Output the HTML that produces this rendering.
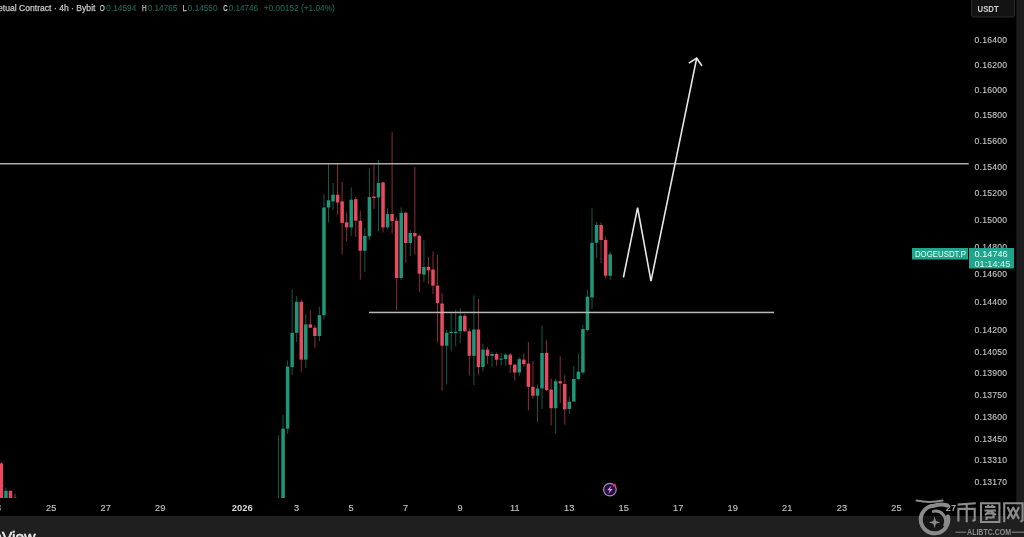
<!DOCTYPE html>
<html><head><meta charset="utf-8">
<style>
html,body{margin:0;padding:0;background:#000;width:1024px;height:537px;overflow:hidden;}
svg{display:block;will-change:transform;filter:blur(0.3px);}
text{font-family:"Liberation Sans",sans-serif;}
.ax{font-size:8.6px;letter-spacing:0.24px;fill:#c4c4c4;stroke:#c4c4c4;stroke-width:0.12px;}
.tx{font-size:9.2px;letter-spacing:0.1px;fill:#c4c4c4;stroke:#c4c4c4;stroke-width:0.12px;text-anchor:middle;}
.yr{font-weight:bold;font-size:9.3px;fill:#d8d8d8;stroke-width:0;}
.hd{font-size:8.6px;fill:#c4c4c4;stroke:#c4c4c4;stroke-width:0.25px;}
.hv{font-size:8.6px;fill:#1b6c58;stroke:#1b6c58;stroke-width:0.1px;}
</style></head><body>
<svg width="1024" height="537" viewBox="0 0 1024 537">
<rect x="0" y="0" width="1024" height="537" fill="#000"/>
<defs><clipPath id="pane"><rect x="0" y="0" width="1016" height="498"/></clipPath></defs>
<g clip-path="url(#pane)">
<rect x="0.90" y="462.0" width="1" height="43.0" fill="#e84a5f" fill-opacity="0.6"/>
<rect x="-0.35" y="463.4" width="3.5" height="41.6" fill="#e84a5f"/>
<rect x="5.45" y="487.4" width="1" height="17.6" fill="#1f9679" fill-opacity="0.6"/>
<rect x="4.20" y="490.8" width="3.5" height="14.2" fill="#1f9679"/>
<rect x="9.99" y="490.8" width="1" height="14.2" fill="#e84a5f" fill-opacity="0.6"/>
<rect x="8.74" y="490.8" width="3.5" height="14.2" fill="#e84a5f"/>
<rect x="14.53" y="493.5" width="1" height="11.5" fill="#e84a5f" fill-opacity="0.6"/>
<rect x="13.28" y="497.6" width="3.5" height="7.4" fill="#e84a5f"/>
<rect x="278.03" y="435.5" width="1" height="84.5" fill="#1f9679" fill-opacity="0.6"/>
<rect x="276.78" y="505.0" width="3.5" height="15.0" fill="#1f9679"/>
<rect x="282.57" y="414.5" width="1" height="105.5" fill="#1f9679" fill-opacity="0.6"/>
<rect x="281.32" y="428.7" width="3.5" height="91.3" fill="#1f9679"/>
<rect x="287.11" y="360.4" width="1" height="73.3" fill="#1f9679" fill-opacity="0.6"/>
<rect x="285.86" y="366.7" width="3.5" height="62.0" fill="#1f9679"/>
<rect x="291.66" y="289.2" width="1" height="85.8" fill="#1f9679" fill-opacity="0.6"/>
<rect x="290.41" y="332.8" width="3.5" height="34.2" fill="#1f9679"/>
<rect x="296.20" y="296.0" width="1" height="46.0" fill="#1f9679" fill-opacity="0.6"/>
<rect x="294.95" y="301.8" width="3.5" height="31.0" fill="#1f9679"/>
<rect x="300.74" y="299.2" width="1" height="72.8" fill="#e84a5f" fill-opacity="0.6"/>
<rect x="299.49" y="301.8" width="3.5" height="57.8" fill="#e84a5f"/>
<rect x="305.29" y="314.3" width="1" height="53.7" fill="#1f9679" fill-opacity="0.6"/>
<rect x="304.04" y="324.4" width="3.5" height="35.2" fill="#1f9679"/>
<rect x="309.83" y="310.0" width="1" height="18.0" fill="#e84a5f" fill-opacity="0.6"/>
<rect x="308.58" y="324.4" width="3.5" height="3.3" fill="#e84a5f"/>
<rect x="314.37" y="325.0" width="1" height="22.9" fill="#e84a5f" fill-opacity="0.6"/>
<rect x="313.12" y="327.7" width="3.5" height="8.3" fill="#e84a5f"/>
<rect x="318.91" y="306.8" width="1" height="34.4" fill="#1f9679" fill-opacity="0.6"/>
<rect x="317.66" y="315.2" width="3.5" height="20.8" fill="#1f9679"/>
<rect x="323.46" y="194.1" width="1" height="125.3" fill="#1f9679" fill-opacity="0.6"/>
<rect x="322.21" y="207.5" width="3.5" height="107.7" fill="#1f9679"/>
<rect x="328.00" y="163.4" width="1" height="59.2" fill="#1f9679" fill-opacity="0.6"/>
<rect x="326.75" y="200.3" width="3.5" height="7.2" fill="#1f9679"/>
<rect x="332.54" y="183.0" width="1" height="27.0" fill="#1f9679" fill-opacity="0.6"/>
<rect x="331.29" y="194.7" width="3.5" height="6.7" fill="#1f9679"/>
<rect x="337.09" y="163.4" width="1" height="51.6" fill="#e84a5f" fill-opacity="0.6"/>
<rect x="335.84" y="194.7" width="3.5" height="7.8" fill="#e84a5f"/>
<rect x="341.63" y="181.8" width="1" height="72.9" fill="#e84a5f" fill-opacity="0.6"/>
<rect x="340.38" y="201.4" width="3.5" height="21.5" fill="#e84a5f"/>
<rect x="346.17" y="212.3" width="1" height="29.0" fill="#e84a5f" fill-opacity="0.6"/>
<rect x="344.92" y="222.3" width="3.5" height="5.1" fill="#e84a5f"/>
<rect x="350.72" y="187.4" width="1" height="48.4" fill="#1f9679" fill-opacity="0.6"/>
<rect x="349.47" y="199.7" width="3.5" height="27.7" fill="#1f9679"/>
<rect x="355.26" y="197.0" width="1" height="39.9" fill="#e84a5f" fill-opacity="0.6"/>
<rect x="354.01" y="199.2" width="3.5" height="21.5" fill="#e84a5f"/>
<rect x="359.80" y="210.6" width="1" height="69.0" fill="#e84a5f" fill-opacity="0.6"/>
<rect x="358.55" y="220.7" width="3.5" height="30.1" fill="#e84a5f"/>
<rect x="364.34" y="228.0" width="1" height="44.0" fill="#1f9679" fill-opacity="0.6"/>
<rect x="363.09" y="235.8" width="3.5" height="15.0" fill="#1f9679"/>
<rect x="368.89" y="168.4" width="1" height="71.8" fill="#1f9679" fill-opacity="0.6"/>
<rect x="367.64" y="197.0" width="3.5" height="39.3" fill="#1f9679"/>
<rect x="373.43" y="165.0" width="1" height="44.0" fill="#e84a5f" fill-opacity="0.6"/>
<rect x="372.18" y="196.5" width="3.5" height="1.5" fill="#e84a5f"/>
<rect x="377.97" y="160.0" width="1" height="71.3" fill="#1f9679" fill-opacity="0.6"/>
<rect x="376.72" y="183.0" width="3.5" height="14.5" fill="#1f9679"/>
<rect x="382.52" y="182.0" width="1" height="50.4" fill="#e84a5f" fill-opacity="0.6"/>
<rect x="381.27" y="182.4" width="3.5" height="45.0" fill="#e84a5f"/>
<rect x="387.06" y="208.4" width="1" height="20.6" fill="#1f9679" fill-opacity="0.6"/>
<rect x="385.81" y="214.0" width="3.5" height="13.4" fill="#1f9679"/>
<rect x="391.60" y="131.7" width="1" height="101.8" fill="#e84a5f" fill-opacity="0.6"/>
<rect x="390.35" y="214.0" width="3.5" height="7.2" fill="#e84a5f"/>
<rect x="396.15" y="216.8" width="1" height="93.3" fill="#e84a5f" fill-opacity="0.6"/>
<rect x="394.90" y="220.7" width="3.5" height="57.3" fill="#e84a5f"/>
<rect x="400.69" y="207.3" width="1" height="72.7" fill="#1f9679" fill-opacity="0.6"/>
<rect x="399.44" y="212.8" width="3.5" height="65.2" fill="#1f9679"/>
<rect x="405.23" y="212.0" width="1" height="50.8" fill="#e84a5f" fill-opacity="0.6"/>
<rect x="403.98" y="212.8" width="3.5" height="30.2" fill="#e84a5f"/>
<rect x="409.77" y="230.0" width="1" height="26.0" fill="#1f9679" fill-opacity="0.6"/>
<rect x="408.52" y="233.0" width="3.5" height="10.0" fill="#1f9679"/>
<rect x="414.32" y="166.8" width="1" height="87.9" fill="#e84a5f" fill-opacity="0.6"/>
<rect x="413.07" y="233.0" width="3.5" height="3.3" fill="#e84a5f"/>
<rect x="418.86" y="235.0" width="1" height="57.0" fill="#e84a5f" fill-opacity="0.6"/>
<rect x="417.61" y="235.8" width="3.5" height="37.9" fill="#e84a5f"/>
<rect x="423.40" y="240.2" width="1" height="41.8" fill="#1f9679" fill-opacity="0.6"/>
<rect x="422.15" y="267.0" width="3.5" height="7.6" fill="#1f9679"/>
<rect x="427.95" y="257.0" width="1" height="26.8" fill="#e84a5f" fill-opacity="0.6"/>
<rect x="426.70" y="267.0" width="3.5" height="3.4" fill="#e84a5f"/>
<rect x="432.49" y="251.4" width="1" height="42.6" fill="#e84a5f" fill-opacity="0.6"/>
<rect x="431.24" y="269.5" width="3.5" height="16.1" fill="#e84a5f"/>
<rect x="437.03" y="254.7" width="1" height="87.6" fill="#e84a5f" fill-opacity="0.6"/>
<rect x="435.78" y="285.6" width="3.5" height="17.4" fill="#e84a5f"/>
<rect x="441.58" y="293.0" width="1" height="97.7" fill="#e84a5f" fill-opacity="0.6"/>
<rect x="440.33" y="303.5" width="3.5" height="42.2" fill="#e84a5f"/>
<rect x="446.12" y="330.0" width="1" height="54.5" fill="#1f9679" fill-opacity="0.6"/>
<rect x="444.87" y="332.8" width="3.5" height="12.9" fill="#1f9679"/>
<rect x="450.66" y="312.5" width="1" height="38.8" fill="#1f9679" fill-opacity="0.6"/>
<rect x="449.41" y="331.8" width="3.5" height="1.2" fill="#1f9679"/>
<rect x="455.20" y="309.7" width="1" height="36.6" fill="#1f9679" fill-opacity="0.6"/>
<rect x="453.95" y="331.8" width="3.5" height="1.2" fill="#1f9679"/>
<rect x="459.75" y="308.0" width="1" height="35.0" fill="#1f9679" fill-opacity="0.6"/>
<rect x="458.50" y="315.8" width="3.5" height="15.4" fill="#1f9679"/>
<rect x="464.29" y="314.0" width="1" height="18.0" fill="#e84a5f" fill-opacity="0.6"/>
<rect x="463.04" y="315.8" width="3.5" height="15.4" fill="#e84a5f"/>
<rect x="468.83" y="328.4" width="1" height="47.2" fill="#e84a5f" fill-opacity="0.6"/>
<rect x="467.58" y="331.2" width="3.5" height="24.6" fill="#e84a5f"/>
<rect x="473.38" y="295.1" width="1" height="89.9" fill="#1f9679" fill-opacity="0.6"/>
<rect x="472.13" y="329.5" width="3.5" height="26.3" fill="#1f9679"/>
<rect x="477.92" y="299.0" width="1" height="76.0" fill="#e84a5f" fill-opacity="0.6"/>
<rect x="476.67" y="329.5" width="3.5" height="37.5" fill="#e84a5f"/>
<rect x="482.46" y="343.5" width="1" height="27.9" fill="#1f9679" fill-opacity="0.6"/>
<rect x="481.21" y="349.6" width="3.5" height="17.4" fill="#1f9679"/>
<rect x="487.01" y="347.0" width="1" height="17.0" fill="#e84a5f" fill-opacity="0.6"/>
<rect x="485.76" y="349.6" width="3.5" height="6.2" fill="#e84a5f"/>
<rect x="491.55" y="351.8" width="1" height="15.2" fill="#1f9679" fill-opacity="0.6"/>
<rect x="490.30" y="354.0" width="3.5" height="1.8" fill="#1f9679"/>
<rect x="496.09" y="352.4" width="1" height="13.4" fill="#e84a5f" fill-opacity="0.6"/>
<rect x="494.84" y="354.0" width="3.5" height="5.7" fill="#e84a5f"/>
<rect x="500.63" y="353.0" width="1" height="12.8" fill="#1f9679" fill-opacity="0.6"/>
<rect x="499.38" y="358.5" width="3.5" height="1.2" fill="#1f9679"/>
<rect x="505.18" y="353.5" width="1" height="12.3" fill="#1f9679" fill-opacity="0.6"/>
<rect x="503.93" y="354.6" width="3.5" height="4.5" fill="#1f9679"/>
<rect x="509.72" y="353.0" width="1" height="20.0" fill="#e84a5f" fill-opacity="0.6"/>
<rect x="508.47" y="354.6" width="3.5" height="10.1" fill="#e84a5f"/>
<rect x="514.26" y="364.0" width="1" height="16.6" fill="#e84a5f" fill-opacity="0.6"/>
<rect x="513.01" y="364.7" width="3.5" height="7.8" fill="#e84a5f"/>
<rect x="518.81" y="357.4" width="1" height="18.5" fill="#1f9679" fill-opacity="0.6"/>
<rect x="517.56" y="359.1" width="3.5" height="13.4" fill="#1f9679"/>
<rect x="523.35" y="353.5" width="1" height="13.5" fill="#e84a5f" fill-opacity="0.6"/>
<rect x="522.10" y="359.7" width="3.5" height="4.4" fill="#e84a5f"/>
<rect x="527.89" y="342.3" width="1" height="68.1" fill="#e84a5f" fill-opacity="0.6"/>
<rect x="526.64" y="363.6" width="3.5" height="23.2" fill="#e84a5f"/>
<rect x="532.44" y="360.8" width="1" height="37.7" fill="#e84a5f" fill-opacity="0.6"/>
<rect x="531.19" y="386.8" width="3.5" height="8.9" fill="#e84a5f"/>
<rect x="536.98" y="384.5" width="1" height="37.7" fill="#1f9679" fill-opacity="0.6"/>
<rect x="535.73" y="388.4" width="3.5" height="7.3" fill="#1f9679"/>
<rect x="541.52" y="325.6" width="1" height="83.2" fill="#1f9679" fill-opacity="0.6"/>
<rect x="540.27" y="353.0" width="3.5" height="35.4" fill="#1f9679"/>
<rect x="546.07" y="340.1" width="1" height="50.9" fill="#e84a5f" fill-opacity="0.6"/>
<rect x="544.82" y="353.0" width="3.5" height="37.0" fill="#e84a5f"/>
<rect x="550.61" y="378.4" width="1" height="47.1" fill="#e84a5f" fill-opacity="0.6"/>
<rect x="549.36" y="389.6" width="3.5" height="18.6" fill="#e84a5f"/>
<rect x="555.15" y="379.0" width="1" height="54.5" fill="#1f9679" fill-opacity="0.6"/>
<rect x="553.90" y="381.2" width="3.5" height="27.0" fill="#1f9679"/>
<rect x="559.69" y="356.3" width="1" height="46.7" fill="#e84a5f" fill-opacity="0.6"/>
<rect x="558.44" y="381.2" width="3.5" height="2.2" fill="#e84a5f"/>
<rect x="564.24" y="375.0" width="1" height="49.6" fill="#e84a5f" fill-opacity="0.6"/>
<rect x="562.99" y="384.0" width="3.5" height="25.3" fill="#e84a5f"/>
<rect x="568.78" y="396.8" width="1" height="17.2" fill="#1f9679" fill-opacity="0.6"/>
<rect x="567.53" y="401.7" width="3.5" height="7.3" fill="#1f9679"/>
<rect x="573.32" y="365.8" width="1" height="36.2" fill="#1f9679" fill-opacity="0.6"/>
<rect x="572.07" y="379.0" width="3.5" height="22.5" fill="#1f9679"/>
<rect x="577.87" y="353.5" width="1" height="26.5" fill="#1f9679" fill-opacity="0.6"/>
<rect x="576.62" y="371.7" width="3.5" height="7.3" fill="#1f9679"/>
<rect x="582.41" y="325.0" width="1" height="49.7" fill="#1f9679" fill-opacity="0.6"/>
<rect x="581.16" y="329.0" width="3.5" height="43.5" fill="#1f9679"/>
<rect x="586.95" y="289.6" width="1" height="41.7" fill="#1f9679" fill-opacity="0.6"/>
<rect x="585.70" y="296.7" width="3.5" height="33.3" fill="#1f9679"/>
<rect x="591.50" y="208.3" width="1" height="100.7" fill="#1f9679" fill-opacity="0.6"/>
<rect x="590.25" y="242.8" width="3.5" height="54.6" fill="#1f9679"/>
<rect x="596.04" y="222.0" width="1" height="35.8" fill="#1f9679" fill-opacity="0.6"/>
<rect x="594.79" y="225.0" width="3.5" height="17.8" fill="#1f9679"/>
<rect x="600.58" y="222.4" width="1" height="40.6" fill="#e84a5f" fill-opacity="0.6"/>
<rect x="599.33" y="225.0" width="3.5" height="15.0" fill="#e84a5f"/>
<rect x="605.12" y="236.6" width="1" height="41.7" fill="#e84a5f" fill-opacity="0.6"/>
<rect x="603.87" y="240.0" width="3.5" height="35.7" fill="#e84a5f"/>
<rect x="609.67" y="251.6" width="1" height="28.6" fill="#1f9679" fill-opacity="0.6"/>
<rect x="608.42" y="254.3" width="3.5" height="21.5" fill="#1f9679"/>
</g>
<!-- horizontal lines -->
<rect x="0" y="163" width="968.7" height="1.5" fill="#aaaaaa"/>
<rect x="369" y="311.7" width="405" height="1.5" fill="#b8b8b8"/>
<!-- arrow -->
<polyline points="623.4,277.5 637.6,207.7 651,281.2 696.7,58.2" fill="none" stroke="#e6e6e6" stroke-width="1.6" stroke-linejoin="miter"/>
<polyline points="688.9,63.2 696.7,58.2 701.9,65.8" fill="none" stroke="#e6e6e6" stroke-width="1.6"/>
<!-- header -->
<text x="-2" y="10.6" class="hd">etual Contract · 4h · Bybit</text>
<text x="99.8" y="10.6" class="hd" textLength="5" lengthAdjust="spacingAndGlyphs">O</text><text x="106.3" y="10.6" class="hv" textLength="30" lengthAdjust="spacingAndGlyphs">0.14594</text>
<text x="141.9" y="10.6" class="hd" textLength="4.6" lengthAdjust="spacingAndGlyphs">H</text><text x="147.7" y="10.6" class="hv" textLength="29.6" lengthAdjust="spacingAndGlyphs">0.14765</text>
<text x="182.5" y="10.6" class="hd" textLength="4.1" lengthAdjust="spacingAndGlyphs">L</text><text x="187.8" y="10.6" class="hv" textLength="29.7" lengthAdjust="spacingAndGlyphs">0.14550</text>
<text x="223.2" y="10.6" class="hd" textLength="4.4" lengthAdjust="spacingAndGlyphs">C</text><text x="228.8" y="10.6" class="hv" textLength="29.3" lengthAdjust="spacingAndGlyphs">0.14746</text>
<text x="263.8" y="10.6" class="hv" textLength="71" lengthAdjust="spacingAndGlyphs">+0.00152 (+1.04%)</text>
<!-- price axis -->
<text x="974.5" y="43.3" class="ax">0.16400</text>
<text x="974.5" y="68.0" class="ax">0.16200</text>
<text x="974.5" y="93.0" class="ax">0.16000</text>
<text x="974.5" y="118.3" class="ax">0.15800</text>
<text x="974.5" y="143.9" class="ax">0.15600</text>
<text x="974.5" y="169.9" class="ax">0.15400</text>
<text x="974.5" y="196.2" class="ax">0.15200</text>
<text x="974.5" y="222.8" class="ax">0.15000</text>
<text x="974.5" y="249.8" class="ax">0.14800</text>
<text x="974.5" y="277.2" class="ax">0.14600</text>
<text x="974.5" y="305.0" class="ax">0.14400</text>
<text x="974.5" y="333.1" class="ax">0.14200</text>
<text x="974.5" y="354.5" class="ax">0.14050</text>
<text x="974.5" y="376.1" class="ax">0.13900</text>
<text x="974.5" y="397.9" class="ax">0.13750</text>
<text x="974.5" y="420.0" class="ax">0.13600</text>
<text x="974.5" y="442.3" class="ax">0.13450</text>
<text x="974.5" y="463.3" class="ax">0.13310</text>
<text x="974.5" y="484.6" class="ax">0.13170</text>
<!-- time axis -->
<text x="-4.1" y="511.3" class="tx">23</text>
<text x="51.2" y="511.3" class="tx">25</text>
<text x="105.8" y="511.3" class="tx">27</text>
<text x="160.3" y="511.3" class="tx">29</text>
<text x="242.3" y="511.3" class="tx yr">2026</text>
<text x="296.7" y="511.3" class="tx">3</text>
<text x="351.2" y="511.3" class="tx">5</text>
<text x="405.7" y="511.3" class="tx">7</text>
<text x="460.2" y="511.3" class="tx">9</text>
<text x="514.8" y="511.3" class="tx">11</text>
<text x="569.3" y="511.3" class="tx">13</text>
<text x="623.8" y="511.3" class="tx">15</text>
<text x="678.3" y="511.3" class="tx">17</text>
<text x="732.8" y="511.3" class="tx">19</text>
<text x="787.3" y="511.3" class="tx">21</text>
<text x="841.9" y="511.3" class="tx">23</text>
<text x="896.4" y="511.3" class="tx">25</text>
<text x="950.9" y="511.3" class="tx">27</text>
<!-- USDT button -->
<rect x="971.5" y="-2" width="43" height="19" rx="2" fill="#131313" stroke="#2a2a2a" stroke-width="1"/>
<text x="977.6" y="12" textLength="21" lengthAdjust="spacingAndGlyphs" style="font-size:9.6px;font-weight:bold;fill:#d0d0d0">USDT</text>
<!-- current price label -->
<rect x="912" y="248" width="56" height="11.5" fill="#1ea58b"/>
<text x="914.9" y="257.2" textLength="51" lengthAdjust="spacingAndGlyphs" style="font-size:8.6px;fill:#eafaf5">DOGEUSDT.P</text>
<rect x="969" y="248" width="45" height="20.5" fill="#1ea58b"/>
<text x="974.5" y="257.3" style="font-size:9.2px;fill:#f0fff9">0.14746</text>
<text x="974.5" y="266.7" style="font-size:9.2px;fill:#e0f5ee">01:14:45</text>
<!-- right strip -->
<rect x="1016.3" y="0" width="8" height="537" fill="#1c1c1c"/>
<!-- bottom strip -->
<rect x="0" y="516" width="1024" height="21" fill="#1f1f1f"/>
<text x="-6.6" y="542.2" style="font-size:15.5px;fill:#e8e8e8;stroke:#e8e8e8;stroke-width:0.6px">aView</text>
<!-- lightning icon -->
<circle cx="609.9" cy="489.6" r="6.3" fill="#2a0f40" stroke="#a88ac0" stroke-width="1.2"/>
<path d="M611.5,485.5 L607.2,490.3 L609.8,490.3 L608.2,494 L612.6,489 L610,489 Z" fill="#c9a0f0"/>
<circle cx="614.4" cy="485.2" r="1.6" fill="#c23a4c"/>
<!-- watermark -->
<circle cx="934.5" cy="520.5" r="12" fill="#000" fill-opacity="0.3"/>
<g fill="none" stroke="#8a8a8a" stroke-linecap="round">
<path d="M916.5,500.6 Q929.5,503.4 942.6,500.6" stroke-width="2"/>
<path d="M947.5,505.5 Q941,503.2 934.3,505.7 A13.8,13.8 0 1 0 948,516.5" stroke-width="4"/>
<path d="M933.4,511.4 A10,10 0 0 1 944.8,525" stroke-width="3"/>
</g>
<path d="M934.6,516.6 L935.9,521.1 L940.4,522.4 L935.9,523.7 L934.6,528.2 L933.3,523.7 L928.8,522.4 L933.3,521.1 Z" fill="#8a8a8a"/>
<g fill="none" stroke="#8c8c8c" stroke-width="2.1" stroke-linecap="butt">
<path d="M957.6,504.6 L975.8,503.3"/>
<path d="M958.4,521.5 L958.4,508.9 L974.7,508.9 L974.7,520 L972.5,521"/>
<path d="M966.7,504 L966.7,522.3"/>
<path d="M981,503.2 L999.4,503.2 L999.4,522 L981,522 Z"/>
<path d="M985,507 L995.5,507 M984.5,510.5 L996,510.5 M988,504.8 L989,508 M992.5,504.8 L991.5,508 M990,510.5 L985,515 M990,510.5 L996,515 M986.5,513.5 L993.5,513.5 L993.5,517.5 L986.5,517.5 L986.5,520"/>
<path d="M1004.2,522.3 L1004.2,503.2 L1022.6,503.2 L1022.6,520.5 L1020.5,521.8"/>
<path d="M1007.5,507 L1013.5,519 M1013.5,507 L1007.5,519 M1013,507 L1019,519 M1019,507 L1013,519"/>
<path d="M955.5,532.2 L966.3,532.2 M1011.7,532.2 L1024,532.2" stroke-width="1"/>
</g>
<text x="967.1" y="535.3" textLength="43.9" lengthAdjust="spacingAndGlyphs" style="font-size:8.6px;font-weight:bold;fill:#8c8c8c">ALIBTC.COM</text>
</svg>
</body></html>
